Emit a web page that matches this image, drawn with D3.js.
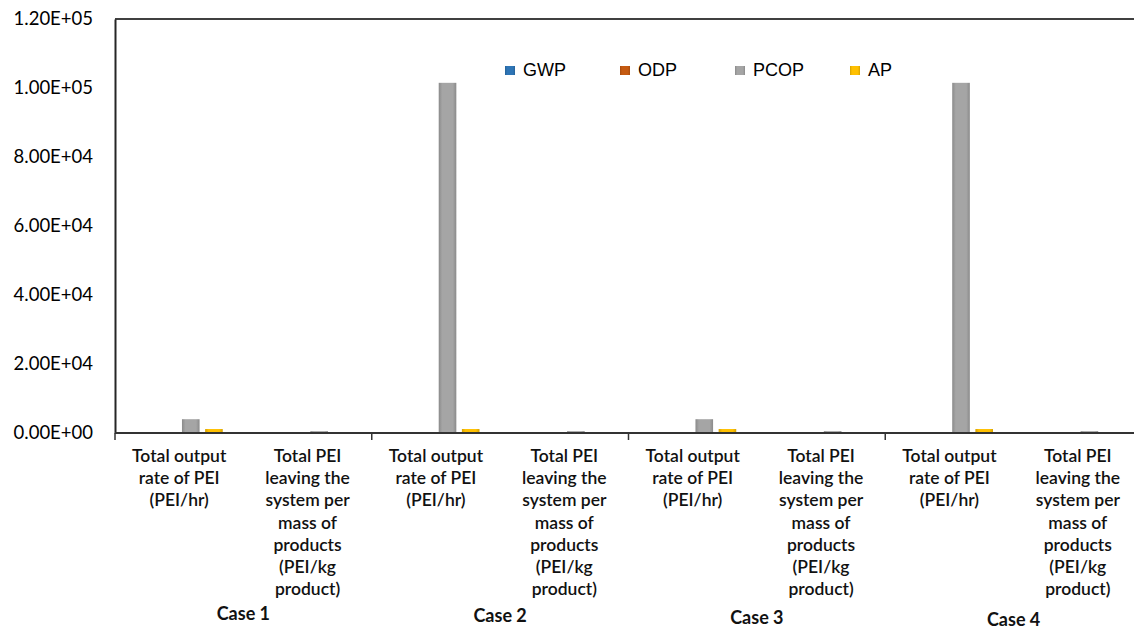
<!DOCTYPE html>
<html>
<head>
<meta charset="utf-8">
<script src="https://cdn.jsdelivr.net/npm/d3@7"></script>
<style>
  body { margin: 0; background: #fff; overflow: hidden; }
  svg { display: block; }
</style>
</head>
<body>
<script>

// Data
var cases = ["Case 1", "Case 2", "Case 3", "Case 4"];
var metrics = ["rate", "mass"];
var metricLabels = {
    rate: ["Total output", "rate of PEI", "(PEI/hr)"],
    mass: ["Total PEI", "leaving the", "system per", "mass of", "products", "(PEI/kg", "product)"]
};
var series = ["GWP", "ODP", "PCOP", "AP"];
var colors = ["#2e75b6", "#c55a11", "#a5a5a5", "#ffc000"];

// values per category (case x metric), in order c1-rate, c1-mass, c2-rate ...
var gwp  = [20, 2, 20, 2, 20, 2, 20, 2];
var odp  = [0, 0, 0, 0, 0, 0, 0, 0];
var pcop = [4000, 550, 101500, 550, 4000, 550, 101500, 550];
var ap   = [1150, 60, 1150, 60, 1150, 60, 1150, 60];
var yTicks = [0, 20000, 40000, 60000, 80000, 100000, 120000];

var width = 1134, height = 631;
var margin = {left: 115, right: -8, top: 19, bottom: 198};

var categories = [];
cases.forEach(c => metrics.forEach(m => categories.push(c + "|" + m)));

var rows = categories.map((k, i) => ({
    key: k,
    values: [gwp[i], odp[i], pcop[i], ap[i]]
}));

var svg = d3.select("body")
.append("svg")
.attr("width", width)
.attr("height", height);

var x0 = d3.scaleBand()
.domain(categories)
.range([margin.left, width - margin.right]);

var x1 = d3.scaleBand()
.domain(series)
.range([0, x0.bandwidth()])
.paddingInner(0.24)
.paddingOuter(0.89);

var y = d3.scaleLinear()
.domain([0, 120000])
.range([height - margin.bottom, margin.top]);

// bar gradients (excel-ish shading)
var defs = svg.append("defs");
series.forEach((s, i) => {
    var base = d3.color(colors[i]);
    var g = defs.append("linearGradient")
    .attr("id", "grad-" + s)
    .attr("x1", "0%").attr("x2", "100%")
    .attr("y1", "0%").attr("y2", "0%");
    g.append("stop").attr("offset", "0%").attr("stop-color", base.darker(0.5));
    g.append("stop").attr("offset", "20%").attr("stop-color", base);
    g.append("stop").attr("offset", "80%").attr("stop-color", base);
    g.append("stop").attr("offset", "100%").attr("stop-color", base.darker(0.5));
});

// top border
svg.append("line")
.attr("x1", margin.left).attr("x2", width)
.attr("y1", y(120000)).attr("y2", y(120000))
.attr("stroke", "#404040")
.attr("stroke-width", 2);

// bars
var groups = svg.selectAll("g.cat")
.data(rows)
.enter()
.append("g")
.attr("class", "cat")
.attr("transform", d => `translate(${x0(d.key)},0)`);

groups.selectAll("rect")
.data(d => d.values.map((v, i) => ({s: series[i], v: v})))
.enter()
.append("rect")
.attr("x", d => x1(d.s))
.attr("width", x1.bandwidth())
.attr("y", d => y(d.v))
.attr("height", d => y(0) - y(d.v))
.attr("fill", d => `url(#grad-${d.s})`);

// y axis
var yAxis = d3.axisLeft(y)
.tickValues(yTicks)
.tickSize(0)
.tickPadding(22)
.tickFormat(d => d3.format(".2e")(d).toUpperCase().replace(/E([+-])(\d)$/, "E$10$2"));

var gy = svg.append("g")
.attr("transform", `translate(${margin.left},0)`)
.call(yAxis);
gy.select(".domain").attr("stroke", "#262626").attr("stroke-width", 2);
gy.selectAll("text")
.attr("font-family", "Lato, 'Liberation Sans', sans-serif")
.attr("font-size", 18.5)
.attr("fill", "#000");

// x axis line
svg.append("line")
.attr("x1", margin.left).attr("x2", width)
.attr("y1", y(0)).attr("y2", y(0))
.attr("stroke", "#333")
.attr("stroke-width", 2);

// case separators
var caseScale = d3.scaleBand()
.domain(cases)
.range([margin.left, width - margin.right]);

cases.forEach(c => {
    svg.append("line")
    .attr("x1", caseScale(c)).attr("x2", caseScale(c))
    .attr("y1", y(0)).attr("y2", y(0) + 7)
    .attr("stroke", "#333")
    .attr("stroke-width", 1.5);
});

// category labels
rows.forEach(r => {
    var m = r.key.split("|")[1];
    var cx = x0(r.key) + x0.bandwidth() / 2;
    var t = svg.append("text")
    .attr("x", cx)
    .attr("y", y(0) + 29)
    .attr("text-anchor", "middle")
    .attr("font-family", "Lato, 'Liberation Sans', sans-serif")
    .attr("font-size", 17.5)
    .attr("font-weight", 600)
    .attr("letter-spacing", 0)
    .attr("fill", "#111");
    metricLabels[m].forEach((line, i) => {
        t.append("tspan")
        .attr("x", cx)
        .attr("dy", i == 0 ? 0 : 22.2)
        .text(line);
    });
});

// case labels
cases.forEach((c, i) => {
    svg.append("text")
    .attr("x", caseScale(c) + caseScale.bandwidth() / 2)
    .attr("y", 620 + i * 2)
    .attr("text-anchor", "middle")
    .attr("font-family", "Lato, 'Liberation Sans', sans-serif")
    .attr("font-size", 18)
    .attr("font-weight", "bold")
    .attr("fill", "#111")
    .text(c);
});

// legend
var legendX = d3.scalePoint()
.domain(series)
.range([505, 850]);

series.forEach((s, i) => {
    svg.append("rect")
    .attr("x", legendX(s))
    .attr("y", 66)
    .attr("width", 10)
    .attr("height", 9)
    .attr("fill", `url(#grad-${s})`);
    svg.append("text")
    .attr("x", legendX(s) + 18)
    .attr("y", 76)
    .attr("font-family", "'Liberation Sans', Arial, sans-serif")
    .attr("font-size", 18)
    .attr("fill", "#000")
    .text(s);
});

</script>
</body>
</html>
